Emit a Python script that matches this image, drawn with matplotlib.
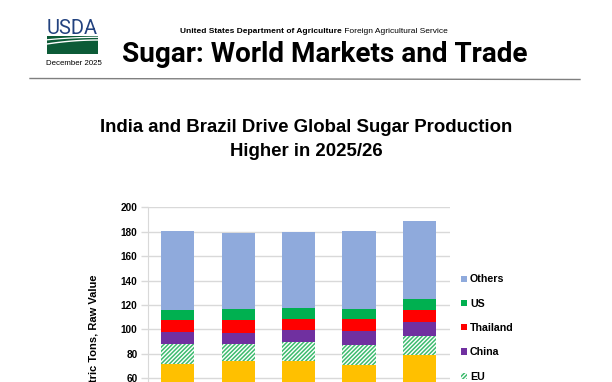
import matplotlib
matplotlib.use('Agg')
import matplotlib.pyplot as plt
from matplotlib.patches import Rectangle
import numpy as np

# ---------------- data ----------------
years = ['2021/22', '2022/23', '2023/24', '2024/25', '2025/26']
brazil = [35.0, 41.3, 41.6, 41.4, 43.5]
india = [36.9, 33.1, 32.5, 29.4, 35.3]
eu = [16.4, 13.9, 15.8, 16.4, 15.8]
china = [9.8, 8.5, 9.9, 11.3, 11.2]
thailand = [9.8, 11.1, 9.0, 10.0, 10.3]
us = [8.2, 8.8, 8.5, 8.2, 8.8]
others = [64.5, 62.5, 62.5, 63.9, 64.1]
yticks = list(range(60, 201, 20))

series_names = ['Brazil', 'India', 'EU', 'China', 'Thailand', 'US', 'Others']
series_vals = [brazil, india, eu, china, thailand, us, others]
series_colors = ['#ED7D31', '#FFC000', 'white', '#7030A0', '#FF0000', '#00B050', '#8FAADC']
series_hatch = [None, None, '////////', None, None, None, None]
series_edge = ['none', 'none', '#3DBB6E', 'none', 'none', 'none', 'none']
legend_names = ['Others', 'US', 'Thailand', 'China', 'EU']

plt.rcParams['font.family'] = ['Liberation Sans', 'DejaVu Sans']
plt.rcParams['hatch.linewidth'] = 1.1

W, H = 612, 382
fig = plt.figure(figsize=(W / 100, H / 100), dpi=100)

# ---------------- main chart ----------------
y_top_px, y_zero_px = 207.3, 451.6
x_left_px, x_right_px = 147.7, 449.5
ax = fig.add_axes([x_left_px / W, 1 - y_zero_px / H,
                   (x_right_px - x_left_px) / W, (y_zero_px - y_top_px) / H])
x = np.arange(len(years))
bottom = np.zeros(len(years))
for name, vals, col, hat, ec in zip(series_names, series_vals, series_colors,
                                    series_hatch, series_edge):
    ax.bar(x, vals, 0.55, bottom=bottom, color=col, hatch=hat, edgecolor=ec,
           linewidth=0, label=name, zorder=3)
    bottom += np.array(vals)

ax.set_xlim(-0.5, len(years) - 0.5)
ax.set_ylim(0, 200)
ax.set_yticks(yticks)
ax.set_xticks(x)
ax.set_xticklabels([])
ax.yaxis.grid(True, color='#D9D9D9', linewidth=1, zorder=0)
ax.set_axisbelow(True)
for s in ['top', 'right', 'bottom']:
    ax.spines[s].set_visible(False)
ax.spines['left'].set_color('#D9D9D9')
ax.tick_params(axis='y', length=5, width=1, color='#D9D9D9', labelsize=7.2, pad=2.4)
ax.tick_params(axis='x', length=0)
for lab in ax.get_yticklabels():
    lab.set_fontweight('bold')

handles, labels = ax.get_legend_handles_labels()
hmap = dict(zip(labels, handles))
fig.legend([hmap[n] for n in legend_names], legend_names, loc='upper left',
           bbox_to_anchor=(461 / W, 1 - 274.5 / H), frameon=False,
           prop={'size': 7.7, 'weight': 'bold'}, handlelength=0.53,
           handleheight=0.53, handletextpad=0.3, labelspacing=1.335,
           borderpad=0, borderaxespad=0)

# ---------------- overlay (pixel coordinates) ----------------
ov = fig.add_axes([0, 0, 1, 1])
ov.set_xlim(0, W)
ov.set_ylim(H, 0)
ov.axis('off')
renderer = fig.canvas.get_renderer()


def fit_size(s, width, weight='bold', family='Liberation Sans'):
    t = ov.text(0, 0, s, fontsize=10, fontweight=weight, family=family)
    w = t.get_window_extent(renderer).width
    t.remove()
    return 10 * width / w


# header small line
fs_small = fit_size('United States Department of Agriculture Foreign Agricultural Service', 254, 'normal')
t1 = ov.text(180.5, 33, 'United States Department of Agriculture', fontsize=fs_small,
             fontweight='bold', va='baseline', ha='left')
w1 = t1.get_window_extent(renderer).width
ov.text(180.5 + w1, 33, ' Foreign Agricultural Service', fontsize=fs_small,
        va='baseline', ha='left')

# header big title
fs_big = fit_size('Sugar: World Markets and Trade', 405, 'bold', 'Roboto')
ov.text(122, 61.5, 'Sugar: World Markets and Trade', fontsize=fs_big,
        fontweight='bold', family='Roboto', va='baseline', ha='left')

# USDA logo
ov.text(47, 34.3, 'USDA', fontsize=fit_size('USDA', 51, 'normal', 'Roboto'),
        family='Roboto', color='#22427F', ha='left', va='baseline')
ov.add_patch(Rectangle((47, 35.7), 51, 18.6, facecolor='#0C5B37', edgecolor='none'))
xx = np.linspace(47, 98, 50)
tt = (xx - 47) / 51
ov.plot(xx, 39.8 - 2.5 * tt * (2 - tt), color='white', lw=0.9)
ov.plot(xx, 44.0 - 4.0 * tt * (2 - tt), color='white', lw=1.0)
ov.text(73.5, 65, 'December 2025', fontsize=fit_size('December 2025', 56.5, 'normal'),
        ha='center', va='baseline')

# header rule
ov.plot([30, 580], [78.5, 79.5], color='#7F7F7F', lw=1)

# chart title
fs_title = fit_size('India and Brazil Drive Global Sugar Production', 415)
ov.text(306, 131.5, 'India and Brazil Drive Global Sugar Production', fontsize=fs_title,
        fontweight='bold', ha='center', va='baseline')
ov.text(306, 156, 'Higher in 2025/26', fontsize=fs_title,
        fontweight='bold', ha='center', va='baseline')

# y axis label
ov.text(93, 275, 'Million Metric Tons, Raw Value', rotation=90, ha='center', va='top',
        fontsize=8, fontweight='bold')

fig.savefig('out.png', dpi=100)
